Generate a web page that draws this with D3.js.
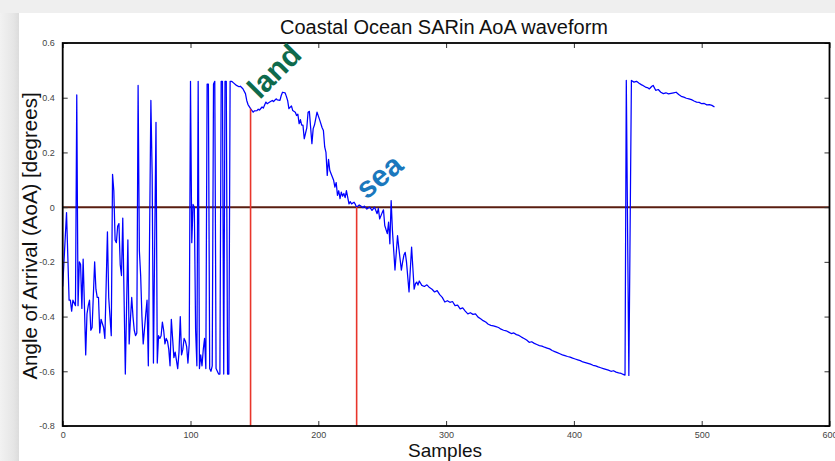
<!DOCTYPE html>
<html><head><meta charset="utf-8">
<script src="https://cdn.jsdelivr.net/npm/d3@7"></script>
<style>body{margin:0;background:#fff}svg{display:block}</style>
</head><body><svg id="c" width="835" height="461"></svg>
<script>
// ---- data ----
const samples = [
0,3,5,6,7,8,10,11,12,13,14,15,16,17,18,19,20,21,22,23,25,26,27,28,29,30,32,33,35,36,38,39,40,41,42,43,44,45,46,47,49,50,
51,52,53,54,55,56,57,58,59,60,61,62,63,65,66,67,69,70,71,73,74,75,76,77,78,79,80,81,82,83,84,85,86,87,88,90,91,92,93,94,
95,96,97,98,99,100,101,102,103,104,105,106,107,108,109,110,111,112,113,114,115,116,117,118,119,120,121,122,123,124,125,126,
127,128,129,130,131,132,
133,136,138,139,141,143,144,145,147,149,150,152,153,154,156,157,159,160,162,164,165,167,168,170,171,172,174,175,176,177,179,
180,182,183,184,185,186,187,188,189,191,192,193,195,196,197,199,201,203,204,205,206,207,208,209,211,212,213,214,215,216,217,
218,219,220,221,222,224,225,226,228,229,230,232,233,235,236,238,240,241,242,243,244,246,247,248,250,251,252,254,255,256,257,
258,260,262,263,265,266,267,268,269,271,273,275,276,277,278,279,281,283,
285,287,289,291,293,295,297,299,301,303,305,307,309,311,313,315,317,319,321,323,325,327,329,331,333,335,337,339,341,343,345,
347,349,351,353,355,357,359,361,363,365,367,369,371,373,375,377,379,381,383,385,387,389,391,393,395,397,399,401,403,405,407,
409,411,413,415,417,419,421,423,425,427,429,431,433,435,437,439,440,
441,443,
445,447,449,451,453,454,456,458,459,461,462,464,466,468,470,472,474,476,478,480,482,484,486,488,490,492,494,496,498,500,502,
504,506,508,510
];
const aoa = [
-0.29,-0.02,-0.34,-0.34,-0.38,-0.34,-0.36,0.41,-0.36,-0.20,-0.21,-0.37,-0.19,-0.36,-0.54,-0.39,-0.36,-0.34,-0.45,-0.44,-0.20,-0.30,-0.33,-0.33,-0.46,-0.41,-0.44,-0.48,-0.09,-0.33,-0.47,0.12,0.06,-0.12,-0.13,-0.07,-0.06,-0.21,-0.25,-0.04,-0.61,-0.36,
-0.12,-0.50,-0.41,-0.33,-0.40,-0.45,-0.47,-0.46,0.445,-0.16,-0.25,-0.40,-0.50,-0.39,-0.34,-0.58,0.39,0.12,-0.57,0.31,-0.57,-0.47,-0.48,-0.47,-0.42,-0.45,-0.50,-0.48,-0.49,-0.52,-0.58,-0.41,-0.48,-0.55,-0.53,-0.59,-0.53,-0.40,-0.54,-0.52,
-0.48,-0.49,-0.51,-0.57,-0.50,0.46,-0.13,0.01,0.00,-0.45,-0.58,0.46,-0.59,-0.54,-0.58,-0.52,-0.48,-0.59,0.45,0.45,-0.59,-0.60,-0.58,0.45,0.46,-0.59,-0.60,-0.61,-0.61,0.46,0.46,-0.61,
0.46,0.46,-0.61,-0.61,0.46,0.46,
0.457,0.445,0.440,0.442,0.433,0.415,0.39,0.375,0.36,0.347,0.352,0.353,0.358,0.355,0.366,0.362,0.384,0.378,0.384,0.390,0.386,0.396,0.392,0.39,0.408,0.42,0.418,0.405,0.39,0.36,0.37,
0.353,0.347,0.335,0.34,0.305,0.32,0.30,0.30,0.25,0.29,0.347,0.35,0.232,0.287,0.30,0.347,0.32,0.29,0.28,0.22,0.20,0.116,0.175,0.134,0.11,0.098,0.073,0.09,0.043,0.06,0.031,
0.055,0.04,0.05,0.035,0.06,0.012,0.02,0.012,0.018,0.01,0.0,0.008,0.005,-0.002,0.004,-0.007,0.0,-0.005,-0.012,-0.006,0.0,-0.024,-0.005,-0.043,-0.02,-0.01,-0.067,-0.097,-0.055,-0.134,0.024,
-0.085,-0.23,-0.104,-0.15,-0.23,-0.2,-0.175,-0.165,-0.2,-0.31,-0.146,-0.30,-0.28,-0.274,-0.285,-0.27,-0.286,-0.29,
-0.284,-0.294,-0.300,-0.31,-0.305,-0.32,-0.33,-0.347,-0.342,-0.348,-0.345,-0.36,-0.358,-0.372,-0.368,-0.38,-0.39,-0.386,-0.392,-0.39,-0.402,-0.408,-0.415,-0.42,-0.428,-0.432,-0.434,-0.437,-0.44,-0.446,-0.45,
-0.452,-0.457,-0.462,-0.46,-0.466,-0.469,-0.475,-0.48,-0.486,-0.494,-0.492,-0.498,-0.502,-0.506,-0.508,-0.512,-0.515,-0.518,-0.524,-0.528,-0.532,-0.536,-0.54,-0.543,-0.546,-0.548,-0.552,-0.555,-0.558,-0.561,-0.566,
-0.568,-0.571,-0.574,-0.578,-0.58,-0.584,-0.587,-0.59,-0.593,-0.596,-0.6,-0.598,-0.603,-0.606,-0.608,-0.612,-0.614,
0.463,-0.615,
0.463,0.457,0.46,0.453,0.447,0.445,0.439,0.436,0.432,0.442,0.445,0.427,0.43,0.42,0.415,0.418,0.414,0.416,0.418,0.42,0.412,0.405,0.402,0.398,0.396,0.393,0.388,0.384,0.383,0.378,0.379,
0.374,0.375,0.372,0.366
];
const xTicks = [0,100,200,300,400,500,600];
const yTicks = [-0.8,-0.6,-0.4,-0.2,0,0.2,0.4,0.6];
const markerSamples = [147, 230];   // land / sea boundary markers
const labels = ["land","sea"];
const titleText = "Coastal Ocean SARin AoA waveform";
const xLabel = "Samples";
const yLabel = "Angle of Arrival (AoA) [degrees]";

// ---- drawing ----
const svg = d3.select("#c");
const FONT = "'Liberation Sans', Arial, Helvetica, sans-serif";

// page frame
const defs = svg.append("defs");
const gl = defs.append("linearGradient").attr("id","gl").attr("x1","0").attr("x2","1");
gl.append("stop").attr("offset","0").attr("stop-color","#f2f2f2");
gl.append("stop").attr("offset","0.7").attr("stop-color","#e6e6e6");
gl.append("stop").attr("offset","1").attr("stop-color","#dcdcdc");
svg.append("rect").attr("width",835).attr("height",461).attr("fill","#efefef");
svg.append("rect").attr("x",0).attr("y",13).attr("width",19).attr("height",448).attr("fill","url(#gl)");
svg.append("rect").attr("x",19).attr("y",13).attr("width",816).attr("height",448).attr("fill","#ffffff");

const x = d3.scaleLinear().domain([0,600]).range([62.7,829.5]);
const y = d3.scaleLinear().domain([-0.8,0.6]).range([426,43]);

const data = samples.map((s,i)=>({s, v:aoa[i]}));

// zero line
svg.append("line")
  .attr("x1",x(0)).attr("x2",x(600)).attr("y1",y(0)).attr("y2",y(0))
  .attr("stroke","#5a1e10").attr("stroke-width",2);

// blue waveform
svg.append("path").datum(data)
  .attr("fill","none").attr("stroke","#0000ff").attr("stroke-width",1.25)
  .attr("stroke-linejoin","round")
  .attr("d", d3.line().x(d=>x(d.s)).y(d=>y(d.v)));

// red markers from bottom up to the curve
markerSamples.forEach(ms=>{
  const d = data.reduce((a,b)=> Math.abs(b.s-ms)<Math.abs(a.s-ms)?b:a);
  svg.append("line")
    .attr("x1",x(ms)).attr("x2",x(ms)).attr("y1",y(-0.8)).attr("y2",y(d.v))
    .attr("stroke","#e8352b").attr("stroke-width",1.6);
});

// axes (Matlab-like box with inward ticks)
const axB = d3.axisBottom(x).tickValues(xTicks).tickSize(-5).tickPadding(6).tickFormat(d3.format("d"));
const axT = d3.axisTop(x).tickValues(xTicks).tickSize(-5).tickFormat("");
const fmtY = d => d===0 ? "0" : (d<0?"-":"") + Math.abs(d).toFixed(1);
const axL = d3.axisLeft(y).tickValues(yTicks).tickSize(-5).tickPadding(8).tickFormat(fmtY);
const axR = d3.axisRight(y).tickValues(yTicks).tickSize(-5).tickFormat("");

function style(g){
  g.select(".domain").remove();
  g.selectAll(".tick line").attr("stroke","#333").attr("stroke-width",1);
  g.selectAll(".tick text").attr("fill","#444").style("font-family",FONT).style("font-size","9px");
}
svg.append("g").attr("transform",`translate(0,${y(-0.8)})`).call(axB).call(style);
svg.append("g").attr("transform",`translate(0,${y(0.6)})`).call(axT).call(style);
svg.append("g").attr("transform",`translate(${x(0)},0)`).call(axL).call(style);
svg.append("g").attr("transform",`translate(${x(600)},0)`).call(axR).call(style);

svg.append("rect")
  .attr("x",x(0)).attr("y",y(0.6)).attr("width",x(600)-x(0)).attr("height",y(-0.8)-y(0.6))
  .attr("fill","none").attr("stroke","#000").attr("stroke-width",1.8);

// titles
svg.append("text").attr("x",444).attr("y",34).attr("text-anchor","middle")
  .style("font-family",FONT).style("font-size","20px").attr("fill","#111").text(titleText);
svg.append("text").attr("x",445).attr("y",457).attr("text-anchor","middle")
  .style("font-family",FONT).style("font-size","19px").attr("fill","#111").text(xLabel);
svg.append("text").attr("transform","translate(37,236) rotate(-90)").attr("text-anchor","middle")
  .style("font-family",FONT).style("font-size","20.5px").attr("fill","#111").text(yLabel);

// annotations
svg.append("text").attr("transform","translate(274,71) rotate(-45)")
  .attr("text-anchor","middle").attr("dominant-baseline","central")
  .style("font-family",FONT).style("font-size","30px").style("font-weight","bold")
  .attr("fill","#0e6a4c").text(labels[0]);
svg.append("text").attr("transform","translate(379,176) rotate(-40)")
  .attr("text-anchor","middle").attr("dominant-baseline","central")
  .style("font-family",FONT).style("font-size","30px").style("font-weight","bold")
  .attr("fill","#1a78bd").text(labels[1]);
</script>
</body></html>
